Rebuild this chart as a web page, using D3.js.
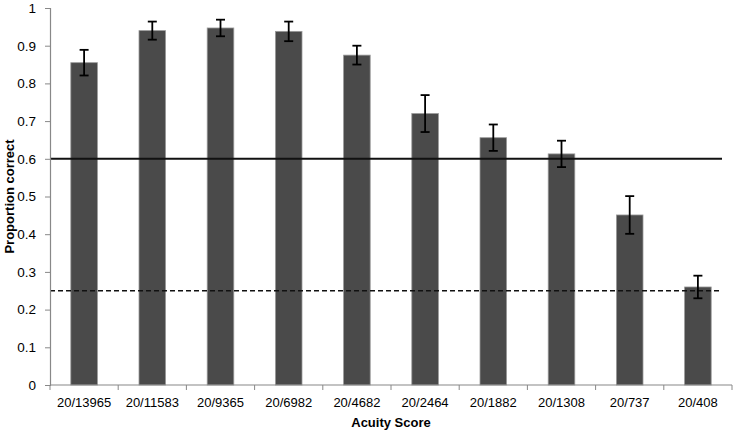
<!DOCTYPE html>
<html>
<head>
<meta charset="utf-8">
<script src="https://cdn.jsdelivr.net/npm/d3@7"></script>
<style>
  body { margin: 0; background: #fff; }
  svg { display: block; font-family: "Liberation Sans", Arial, sans-serif; }
</style>
</head>
<body>
<svg id="chart" width="736" height="433"></svg>
<script>
const categories = ['20/13965', '20/11583', '20/9365', '20/6982', '20/4682', '20/2464', '20/1882', '20/1308', '20/737', '20/408'];
const proportions = [0.855, 0.940, 0.947, 0.938, 0.875, 0.720, 0.656, 0.613, 0.451, 0.260];
const errors = [0.034, 0.024, 0.022, 0.026, 0.025, 0.049, 0.035, 0.035, 0.050, 0.030];
const yTicks = [0, 0.1, 0.2, 0.3, 0.4, 0.5, 0.6, 0.7, 0.8, 0.9, 1];
const criterionLine = 0.6;
const chanceLine = 0.25;

const svg = d3.select('#chart');
const margin = { top: 8, right: 4, bottom: 48, left: 50 };
const width = 736 - margin.left - margin.right;
const height = 433 - margin.top - margin.bottom;

const g = svg.append('g').attr('transform', `translate(${margin.left},${margin.top})`);

const x = d3.scaleBand().domain(categories).range([0, width]).padding(0);
const y = d3.scaleLinear().domain([0, 1]).range([height, 0]);
const barW = x.bandwidth() * 0.39;

// bars
g.selectAll('rect.bar')
  .data(categories)
  .join('rect')
  .attr('class', 'bar')
  .attr('x', (d) => x(d) + (x.bandwidth() - barW) / 2)
  .attr('y', (d, i) => y(proportions[i]))
  .attr('width', barW)
  .attr('height', (d, i) => y(0) - y(proportions[i]))
  .attr('fill', '#4a4a4a')
  .attr('stroke', '#9a9a9a')
  .attr('stroke-width', 0.8);

// reference lines
g.append('line')
  .attr('x1', 0).attr('x2', width - 10)
  .attr('y1', y(criterionLine)).attr('y2', y(criterionLine))
  .attr('stroke', '#111').attr('stroke-width', 2);

g.append('line')
  .attr('x1', 0).attr('x2', width - 10)
  .attr('y1', y(chanceLine)).attr('y2', y(chanceLine))
  .attr('stroke', '#111').attr('stroke-width', 1.5)
  .attr('stroke-dasharray', '5,3');

// error bars
const eb = g.selectAll('g.err')
  .data(categories)
  .join('g')
  .attr('class', 'err')
  .attr('transform', (d) => `translate(${x(d) + x.bandwidth() / 2},0)`);

eb.append('line')
  .attr('y1', (d, i) => y(proportions[i] + errors[i]))
  .attr('y2', (d, i) => y(proportions[i] - errors[i]))
  .attr('stroke', '#000').attr('stroke-width', 1.8);
eb.append('line')
  .attr('x1', -4.5).attr('x2', 4.5)
  .attr('y1', (d, i) => y(proportions[i] + errors[i]))
  .attr('y2', (d, i) => y(proportions[i] + errors[i]))
  .attr('stroke', '#000').attr('stroke-width', 1.8);
eb.append('line')
  .attr('x1', -4.5).attr('x2', 4.5)
  .attr('y1', (d, i) => y(proportions[i] - errors[i]))
  .attr('y2', (d, i) => y(proportions[i] - errors[i]))
  .attr('stroke', '#000').attr('stroke-width', 1.8);

// y axis
const yAxis = g.append('g')
  .call(d3.axisLeft(y).tickValues(yTicks).tickSize(5).tickPadding(9)
    .tickFormat((d) => (d === 0 || d === 1 ? d3.format('d')(d) : d3.format('.1f')(d))));
yAxis.select('.domain').attr('stroke', '#888').attr('stroke-width', 1.2);
yAxis.selectAll('.tick line').attr('stroke', '#888');
yAxis.selectAll('.tick text').attr('font-size', 13.5).attr('fill', '#000');

// x axis
const xAxis = g.append('g').attr('transform', `translate(0,${height})`);
xAxis.append('line')
  .attr('x1', 0).attr('x2', width)
  .attr('stroke', '#888').attr('stroke-width', 1.2);
xAxis.selectAll('line.tk')
  .data(categories.concat(['end']))
  .join('line')
  .attr('class', 'tk')
  .attr('x1', (d, i) => i * x.step()).attr('x2', (d, i) => i * x.step())
  .attr('y1', 0).attr('y2', 5)
  .attr('stroke', '#888');
xAxis.selectAll('text')
  .data(categories)
  .join('text')
  .attr('x', (d) => x(d) + x.bandwidth() / 2)
  .attr('y', 21.5)
  .attr('text-anchor', 'middle')
  .attr('font-size', 13)
  .text((d) => d);

// axis titles
svg.append('text')
  .attr('x', margin.left + width / 2)
  .attr('y', 427)
  .attr('text-anchor', 'middle')
  .attr('font-size', 13)
  .attr('font-weight', 'bold')
  .text('Acuity Score');

svg.append('text')
  .attr('transform', `translate(14,${margin.top + height / 2}) rotate(-90)`)
  .attr('text-anchor', 'middle')
  .attr('font-size', 13)
  .attr('font-weight', 'bold')
  .text('Proportion correct');
</script>
</body>
</html>
